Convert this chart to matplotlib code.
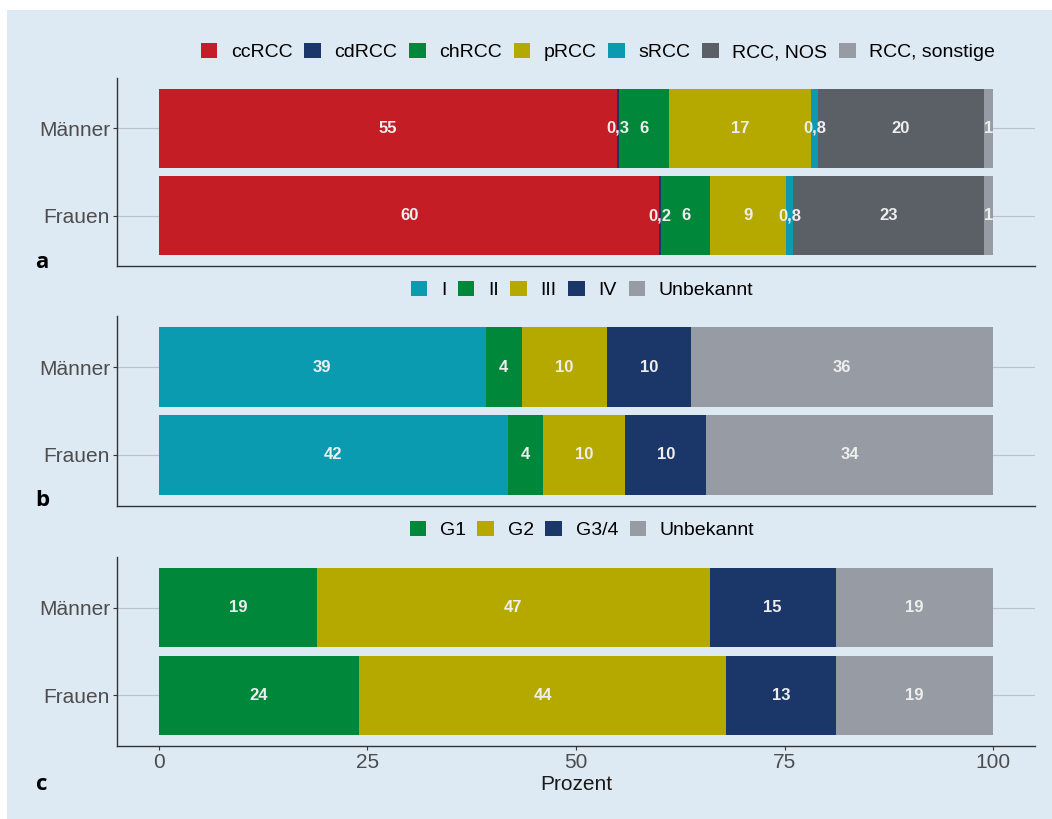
import numpy as np
import matplotlib.pyplot as plt
from matplotlib.patches import Patch, Rectangle

# data: shares in percent, rows = Männer, Frauen
groups = ["Männer", "Frauen"]

histo_names = ["ccRCC", "cdRCC", "chRCC", "pRCC", "sRCC", "RCC, NOS", "RCC, sonstige"]
histo_m = [54.9, 0.3, 6.0, 17.0, 0.8, 19.9, 1.1]
histo_f = [60.0, 0.2, 5.9, 9.1, 0.8, 22.9, 1.1]
histo_lab_m = ["55", "0,3", "6", "17", "0,8", "20", "1"]
histo_lab_f = ["60", "0,2", "6", "9", "0,8", "23", "1"]
histo_cols = ["#c41d25", "#1b3668", "#00873a", "#b5a900", "#0b9bb1", "#5b5f66", "#979ca4"]

stage_names = ["I", "II", "III", "IV", "Unbekannt"]
stage_m = [39.2, 4.3, 10.2, 10.1, 36.2]
stage_f = [41.8, 4.3, 9.8, 9.7, 34.4]
stage_lab_m = ["39", "4", "10", "10", "36"]
stage_lab_f = ["42", "4", "10", "10", "34"]
stage_cols = ["#0b9bb1", "#00873a", "#b5a900", "#1b3668", "#979ca4"]

grade_names = ["G1", "G2", "G3/4", "Unbekannt"]
grade_m = [19.0, 47.0, 15.1, 18.9]
grade_f = [24.0, 44.0, 13.1, 18.9]
grade_lab_m = ["19", "47", "15", "19"]
grade_lab_f = ["24", "44", "13", "19"]
grade_cols = ["#00873a", "#b5a900", "#1b3668", "#979ca4"]

BG = "#dde9f3"
W, H = 1052, 819

fig = plt.figure(figsize=(W / 100, H / 100), dpi=100, facecolor="white")
fig.patches.append(Rectangle((7 / W, 0), 1, 1 - 10 / H, transform=fig.transFigure,
                             facecolor=BG, edgecolor="none", zorder=-10))


def px_axes(x0, y0, x1, y1):
    # pixel box (top-left origin) -> figure coords
    return fig.add_axes([x0 / W, 1 - y1 / H, (x1 - x0) / W, (y1 - y0) / H])


def panel(ax, names, vals_m, vals_f, labs_m, labs_f, cols, show_x):
    ax.set_facecolor(BG)
    ypos = [1, 0]
    for y, vals, labs in zip(ypos, [vals_m, vals_f], [labs_m, labs_f]):
        left = np.concatenate([[0], np.cumsum(vals)[:-1]])
        ax.barh([y] * len(vals), vals, left=left, height=0.9, color=cols,
                edgecolor="none", zorder=3)
        for l, v, t in zip(left, vals, labs):
            ax.text(l + v / 2, y, t, ha="center", va="center", color="#eeeeee",
                    fontsize=12, fontweight="bold", family="Liberation Sans", zorder=4)
    ax.set_xlim(-5, 105)
    ax.set_ylim(-0.58, 1.58)
    ax.set_yticks(ypos)
    ax.set_yticklabels(groups, fontsize=15, color="#4d4d4d", family="Liberation Sans")
    ax.grid(axis="y", color="#b9c1c9", linewidth=0.8, zorder=0)
    for s in ["top", "right"]:
        ax.spines[s].set_visible(False)
    for s in ["left", "bottom"]:
        ax.spines[s].set_color("#333333")
        ax.spines[s].set_linewidth(1.0)
    ax.tick_params(axis="y", length=3, width=0.8, color="#333333", pad=2)
    if show_x:
        ax.set_xticks([0, 25, 50, 75, 100])
        ax.set_xticklabels(["0", "25", "50", "75", "100"], fontsize=15,
                           color="#4d4d4d", family="Liberation Sans")
        ax.tick_params(axis="x", length=3, width=0.8, color="#333333", pad=2)
        ax.set_xlabel("Prozent", fontsize=15, color="#1a1a1a", family="Liberation Sans",
                      labelpad=2)
    else:
        ax.set_xticks([])


def legend(names, cols, cx, cy):
    handles = [Patch(facecolor=c, edgecolor="none") for c in cols]
    fig.legend(handles, names, loc="center", bbox_to_anchor=(cx / W, 1 - cy / H),
               ncol=len(names), frameon=False, handlelength=0.85, handleheight=0.85,
               handletextpad=0.7, columnspacing=0.6,
               prop={"family": "Liberation Sans", "size": 14})


ax_a = px_axes(117, 78, 1035, 266)
panel(ax_a, histo_names, histo_m, histo_f, histo_lab_m, histo_lab_f, histo_cols, False)
ax_b = px_axes(117, 316, 1035, 506)
panel(ax_b, stage_names, stage_m, stage_f, stage_lab_m, stage_lab_f, stage_cols, False)
ax_c = px_axes(117, 557, 1035, 746)
panel(ax_c, grade_names, grade_m, grade_f, grade_lab_m, grade_lab_f, grade_cols, True)

legend(histo_names, histo_cols, 598, 52)
legend(stage_names, stage_cols, 582, 290)
legend(grade_names, grade_cols, 582, 530)

for t, y in zip(["a", "b", "c"], [262, 500, 785]):
    fig.text(42 / W, 1 - y / H, t, fontsize=16, fontweight="bold", family="Open Sans",
             ha="center", va="center", color="black")

fig.savefig("out.png", dpi=100, facecolor="white")
